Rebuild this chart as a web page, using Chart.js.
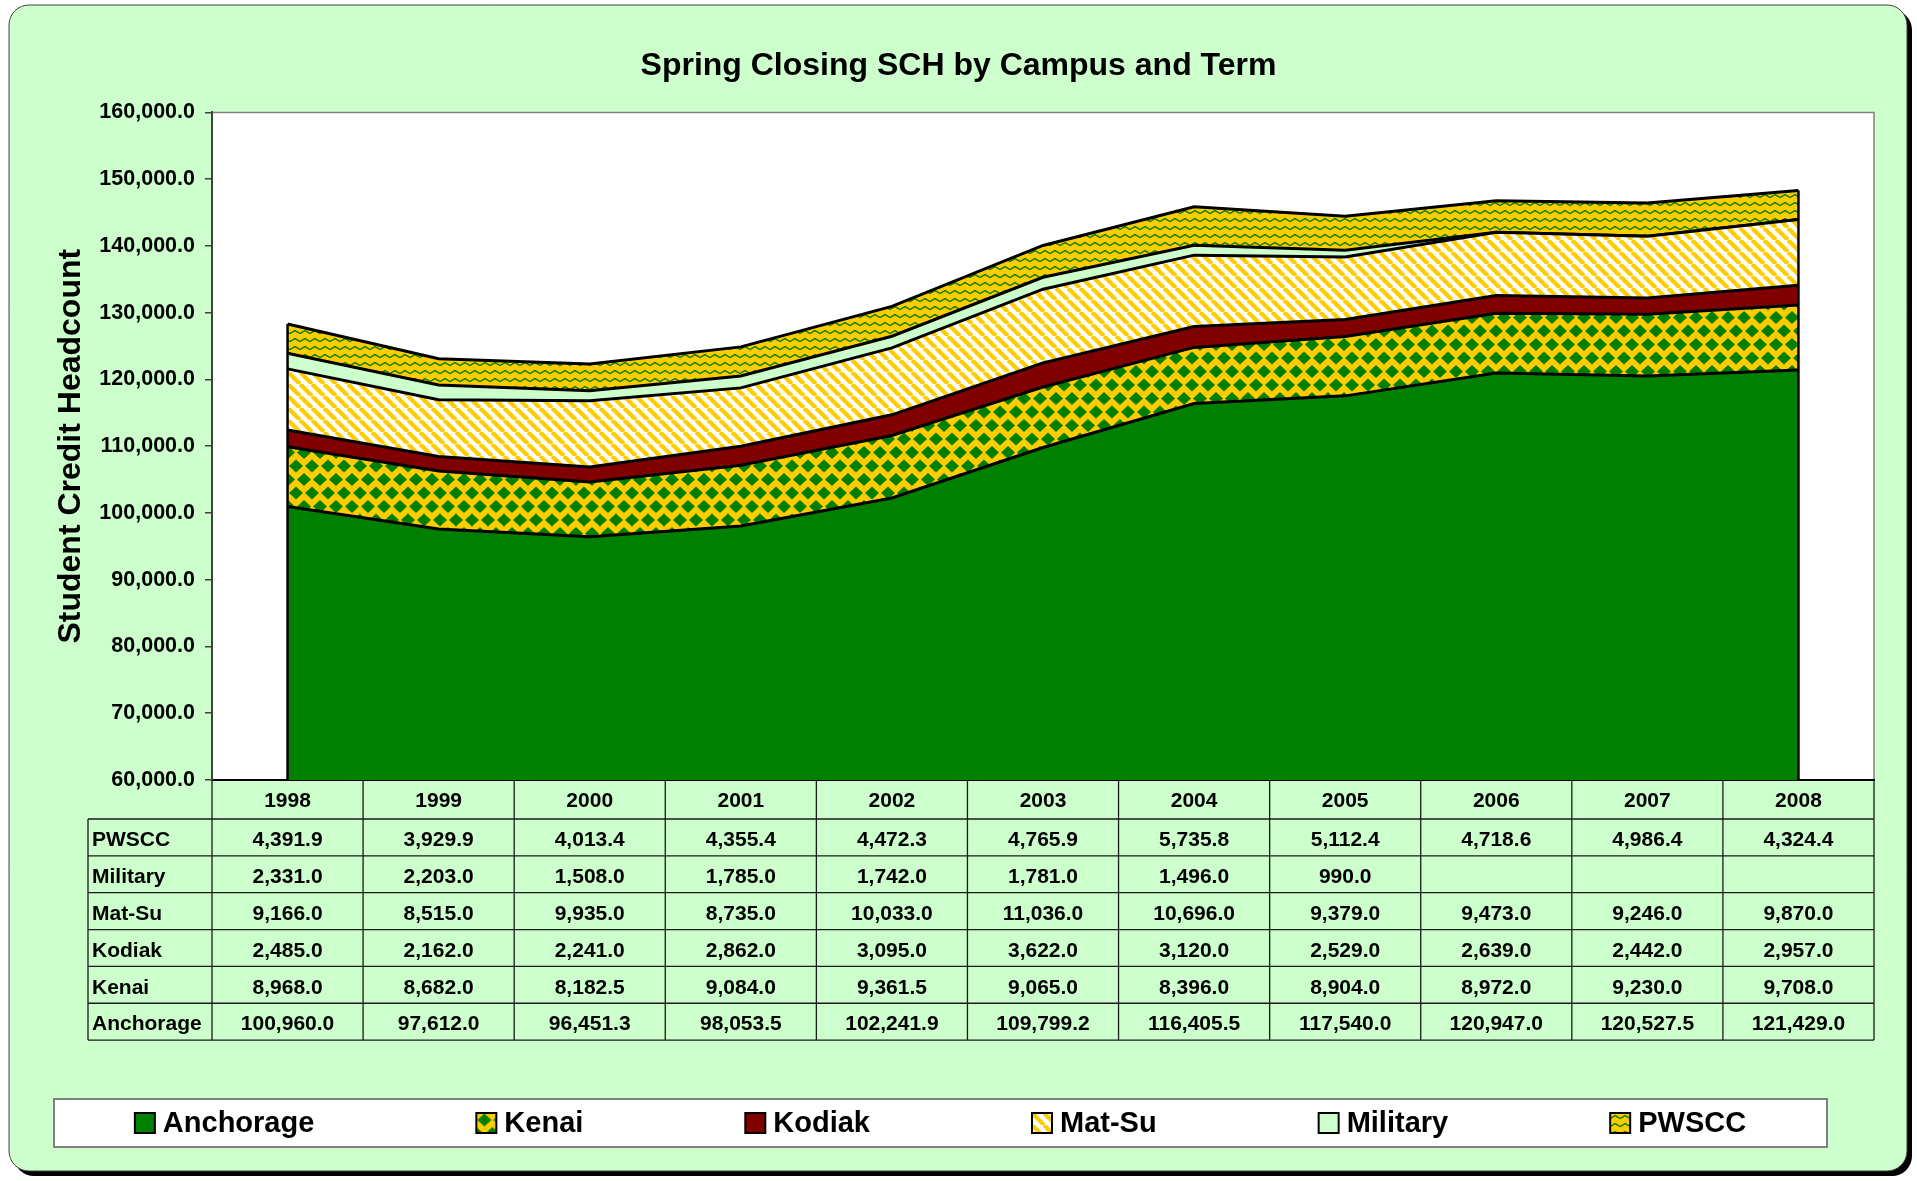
<!DOCTYPE html>
<html>
<head>
<meta charset="utf-8">
<title>Spring Closing SCH by Campus and Term</title>
<script src="https://cdn.jsdelivr.net/npm/chart.js@4.4.1/dist/chart.umd.min.js"></script>
<style>
  html, body { margin: 0; padding: 0; background: #fff; }
</style>
</head>
<body>
<canvas id="schChart" width="1917" height="1181"></canvas>
<script>
// terms
const years = ['1998', '1999', '2000', '2001', '2002', '2003', '2004', '2005', '2006', '2007', '2008'];

// SCH per campus (bottom of the stack first)
const anchorage = [100960.0, 97612.0, 96451.3, 98053.5, 102241.9, 109799.2, 116405.5, 117540.0, 120947.0, 120527.5, 121429.0];
const kenai = [8968.0, 8682.0, 8182.5, 9084.0, 9361.5, 9065.0, 8396.0, 8904.0, 8972.0, 9230.0, 9708.0];
const kodiak = [2485.0, 2162.0, 2241.0, 2862.0, 3095.0, 3622.0, 3120.0, 2529.0, 2639.0, 2442.0, 2957.0];
const matSu = [9166.0, 8515.0, 9935.0, 8735.0, 10033.0, 11036.0, 10696.0, 9379.0, 9473.0, 9246.0, 9870.0];
const military = [2331.0, 2203.0, 1508.0, 1785.0, 1742.0, 1781.0, 1496.0, 990.0, null, null, null];
const pwscc = [4391.9, 3929.9, 4013.4, 4355.4, 4472.3, 4765.9, 5735.8, 5112.4, 4718.6, 4986.4, 4324.4];

// value axis
const yMin = 60000;
const yMax = 160000;
const yStep = 10000;

const GREEN = '#008000';
const YELLOW = '#FFCC00';
const MAROON = '#800000';
const MINT = '#CCFFCC';

Chart.defaults.font.family = '"Liberation Sans", Arial, sans-serif';

const canvas = document.getElementById('schChart');
const ctx = canvas.getContext('2d');

function makePattern(w, h, paint) {
  const c = document.createElement('canvas');
  c.width = w;
  c.height = h;
  paint(c.getContext('2d'), w, h);
  return ctx.createPattern(c, 'repeat');
}

// green diamonds on yellow
const kenaiFill = makePattern(16, 27, (g, w, h) => {
  g.fillStyle = YELLOW;
  g.fillRect(0, 0, w, h);
  g.fillStyle = GREEN;
  [[8, 7], [0, 20.5], [16, 20.5]].forEach(([cx, cy]) => {
    g.beginPath();
    g.moveTo(cx, cy - 6.5);
    g.lineTo(cx + 7, cy);
    g.lineTo(cx, cy + 6.5);
    g.lineTo(cx - 7, cy);
    g.closePath();
    g.fill();
  });
});

// yellow downward diagonals on white
const matSuFill = makePattern(12, 12, (g, w, h) => {
  g.fillStyle = '#fff';
  g.fillRect(0, 0, w, h);
  g.strokeStyle = YELLOW;
  g.lineWidth = 4.2;
  [-12, 0, 12].forEach(o => {
    g.beginPath();
    g.moveTo(o, 0);
    g.lineTo(o + 12, 12);
    g.stroke();
  });
});

// green waves on yellow
const pwsccFill = makePattern(10, 8, (g, w, h) => {
  g.fillStyle = YELLOW;
  g.fillRect(0, 0, w, h);
  g.strokeStyle = GREEN;
  g.lineWidth = 1.5;
  g.beginPath();
  g.moveTo(-5, 2.5);
  g.lineTo(0, 5.5);
  g.lineTo(5, 2.5);
  g.lineTo(10, 5.5);
  g.lineTo(15, 2.5);
  g.stroke();
});

const fmt = v => (v === null || v === undefined) ? '' :
  v.toLocaleString('en-US', { minimumFractionDigits: 1, maximumFractionDigits: 1 });

function area(label, values, fill, bg) {
  return {
    label: label,
    data: values.map(v => v ?? 0),
    raw: values,
    fill: fill,
    backgroundColor: bg,
    borderColor: '#000',
    borderWidth: 3,
    pointRadius: 0,
    tension: 0
  };
}

const datasets = [
  area('Anchorage', anchorage, 'start', GREEN),
  area('Kenai', kenai, '-1', kenaiFill),
  area('Kodiak', kodiak, '-1', MAROON),
  area('Mat-Su', matSu, '-1', matSuFill),
  area('Military', military, '-1', MINT),
  area('PWSCC', pwscc, '-1', pwsccFill)
];

const backdrop = {
  id: 'backdrop',
  beforeDraw(chart) {
    const c = chart.ctx;
    const a = chart.chartArea;
    c.save();
    c.fillStyle = '#000';
    c.beginPath();
    c.roundRect(14, 10, 1898, 1166, 20);
    c.fill();
    c.fillStyle = MINT;
    c.strokeStyle = '#404040';
    c.lineWidth = 1;
    c.beginPath();
    c.roundRect(9, 5, 1898, 1166, 20);
    c.fill();
    c.stroke();

    c.fillStyle = '#fff';
    c.fillRect(a.left, a.top, a.right - a.left, a.bottom - a.top);
    c.strokeStyle = '#808080';
    c.lineWidth = 1.5;
    c.beginPath();
    c.moveTo(a.left, a.top);
    c.lineTo(a.right, a.top);
    c.lineTo(a.right, a.bottom);
    c.stroke();

    // legend frame
    c.fillStyle = '#fff';
    c.strokeStyle = '#808080';
    c.lineWidth = 2;
    c.fillRect(54, 1099, 1773, 48);
    c.strokeRect(54, 1099, 1773, 48);
    c.restore();
  }
};

const areaEdges = {
  id: 'areaEdges',
  afterDatasetsDraw(chart) {
    const c = chart.ctx;
    const y = chart.scales.y;
    const top = chart.getDatasetMeta(chart.data.datasets.length - 1).data;
    c.save();
    c.strokeStyle = '#000';
    c.lineWidth = 2.5;
    [0, top.length - 1].forEach(i => {
      c.beginPath();
      c.moveTo(top[i].x, y.getPixelForValue(y.min));
      c.lineTo(top[i].x, top[i].y);
      c.stroke();
    });
    c.restore();
  }
};

const dataTable = {
  id: 'dataTable',
  afterDraw(chart) {
    const c = chart.ctx;
    const a = chart.chartArea;
    const x = chart.scales.x;
    const rows = chart.data.datasets.slice().reverse();
    const rowsTop = a.bottom + 39;
    const rowH = 36.85;
    const labelLeft = 88;
    const bottom = rowsTop + rows.length * rowH;
    const step = x.getPixelForValue(1) - x.getPixelForValue(0);

    c.save();
    c.strokeStyle = '#1a1a1a';
    c.lineWidth = 1.3;
    c.beginPath();
    for (let r = 0; r <= rows.length; r++) {
      const yy = rowsTop + r * rowH;
      c.moveTo(labelLeft, yy);
      c.lineTo(a.right, yy);
    }
    for (let i = 0; i < years.length; i++) {
      const xx = x.getPixelForValue(i) - step / 2;
      c.moveTo(xx, a.bottom);
      c.lineTo(xx, bottom);
    }
    c.moveTo(a.right, a.bottom);
    c.lineTo(a.right, bottom);
    c.moveTo(labelLeft, rowsTop);
    c.lineTo(labelLeft, bottom);
    c.stroke();

    c.fillStyle = '#000';
    c.font = 'bold 21px "Liberation Sans", Arial, sans-serif';
    c.textBaseline = 'middle';
    rows.forEach((ds, r) => {
      const yy = rowsTop + r * rowH + rowH / 2 + 3;
      c.textAlign = 'left';
      c.fillText(ds.label, labelLeft + 4, yy);
      c.textAlign = 'center';
      ds.raw.forEach((v, i) => c.fillText(fmt(v), x.getPixelForValue(i), yy));
    });
    c.restore();
  }
};

const boxLegend = {
  id: 'boxLegend',
  afterDraw(chart) {
    const c = chart.ctx;
    const items = chart.data.datasets;
    const icon = 20, gapText = 8, gap = 162;
    const centerX = 54 + 1773 / 2;
    const cy = 1123;
    c.save();
    c.font = 'bold 29px "Liberation Sans", Arial, sans-serif';
    c.textBaseline = 'middle';
    c.textAlign = 'left';
    const widths = items.map(ds => icon + gapText + c.measureText(ds.label).width);
    const total = widths.reduce((s, w) => s + w, 0) + gap * (items.length - 1);
    let cx = centerX - total / 2;
    items.forEach((ds, i) => {
      c.save();
      c.translate(cx, cy - icon / 2);
      c.fillStyle = ds.backgroundColor;
      c.fillRect(0, 0, icon, icon);
      c.strokeStyle = '#000';
      c.lineWidth = 2;
      c.strokeRect(0, 0, icon, icon);
      c.restore();
      c.fillStyle = '#000';
      c.fillText(ds.label, cx + icon + gapText, cy + 1);
      cx += widths[i] + gap;
    });
    c.restore();
  }
};

new Chart(ctx, {
  type: 'line',
  data: { labels: years, datasets: datasets },
  plugins: [backdrop, areaEdges, dataTable, boxLegend],
  options: {
    responsive: false,
    animation: false,
    events: [],
    devicePixelRatio: 1,
    layout: { padding: 0 },
    plugins: {
      legend: { display: false },
      tooltip: { enabled: false },
      title: {
        display: true,
        text: 'Spring Closing SCH by Campus and Term',
        color: '#000',
        font: { size: 32, weight: 'bold' },
        padding: { top: 47, bottom: 27 }
      }
    },
    scales: {
      x: {
        offset: true,
        grid: { display: false },
        border: { color: '#000', width: 2 },
        ticks: { color: '#000', font: { size: 21, weight: 'bold' }, padding: 1, maxRotation: 0, autoSkip: false },
        afterFit: s => { s.height = 401; }
      },
      y: {
        stacked: true,
        min: yMin,
        max: yMax,
        ticks: {
          stepSize: yStep,
          color: '#000',
          font: { size: 21.5, weight: 'bold' },
          padding: 10,
          callback: v => fmt(v)
        },
        grid: { drawOnChartArea: false, tickLength: 7, tickColor: '#404040', lineWidth: 1.5 },
        border: { color: '#404040', width: 2 },
        title: {
          display: true,
          text: 'Student Credit Headcount',
          color: '#000',
          font: { size: 32, weight: 'bold' },
          padding: { top: 52, bottom: 0 }
        },
        afterFit: s => { s.width = 212; }
      },
      yr: {
        type: 'linear',
        position: 'right',
        display: true,
        grid: { display: false },
        border: { display: false },
        ticks: { display: false },
        afterFit: s => { s.width = 43; }
      }
    }
  }
});
</script>
</body>
</html>
